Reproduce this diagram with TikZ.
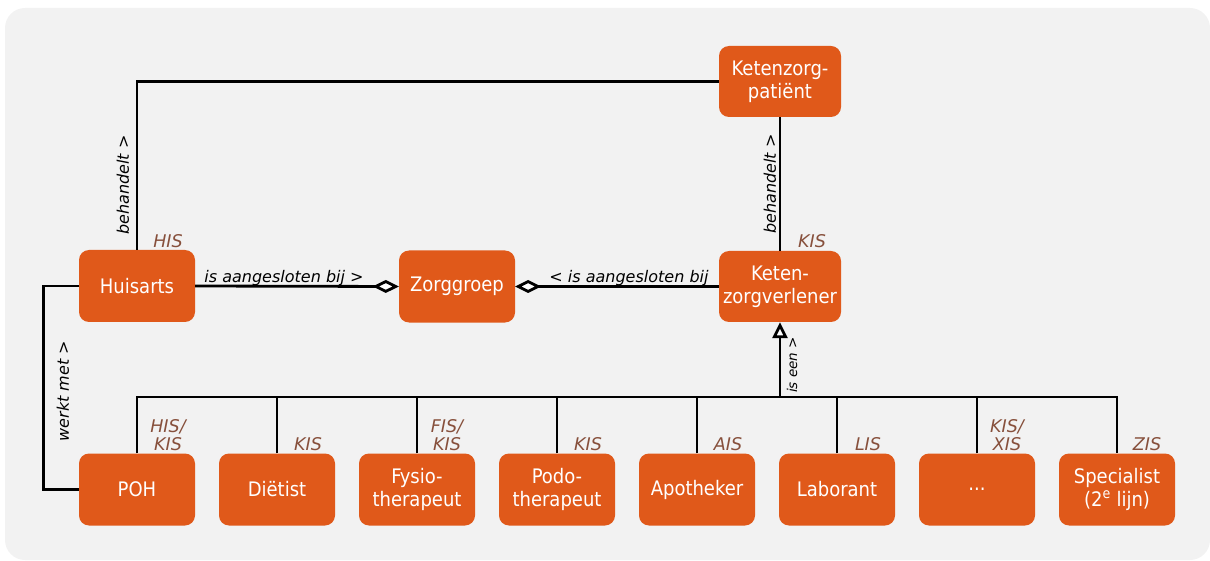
\documentclass[tikz,border=0pt]{standalone}
\usepackage{fontspec}
\setmainfont{DejaVu Sans}
\newfontfamily\rolefont{DejaVu Sans Condensed}
\usetikzlibrary{arrows.meta}
\definecolor{panel}{HTML}{F2F2F2}
\definecolor{rolefill}{HTML}{E0591A}
\definecolor{systext}{HTML}{87503C}
\begin{document}
\begin{tikzpicture}[x=1pt,y=-1pt,
  role/.style={rectangle, rounded corners=10pt, fill=rolefill, text=white,
    minimum width=116pt, minimum height=72pt, align=center, inner sep=0pt,
    font=\rolefont\fontsize{20}{23}\selectfont},
  widerole/.style={minimum width=122pt, minimum height=71pt},
  link/.style={line width=2.8pt, black},
  agg/.style={-{Diamond[fill=white, length=26pt, width=13pt]}},
  gen/.style={-{Triangle[fill=white, length=16pt, width=15pt]}},
  rel/.style={font=\fontsize{16}{19}\selectfont\itshape, text=black, inner sep=0pt},
  smallrel/.style={font=\fontsize{13.5}{16}\selectfont\itshape, text=black, inner sep=0pt},
  sys/.style={font=\fontsize{17.5}{18.5}\selectfont\itshape, text=systext, align=center, inner sep=0pt},
]
\useasboundingbox (0,0) rectangle (1210,561);
\fill[panel, rounded corners=20pt] (5,8) rectangle (1210,560);

% central roles
\node[role, widerole] (kp)  at (780,81.5)  {Ketenzorg-\\patiënt};
\node[role]           (ha)  at (137,286)   {Huisarts};
\node[role]           (zg)  at (457,286.5) {Zorggroep};
\node[role, widerole] (kzv) at (780,286.5) {Keten-\\zorgverlener};

% care providers
\node[role] (poh) at (137,489.5)  {POH};
\node[role] (dt)  at (277,489.5)  {Diëtist};
\node[role] (fy)  at (417,489.5)  {Fysio-\\therapeut};
\node[role] (po)  at (557,489.5)  {Podo-\\therapeut};
\node[role] (ap)  at (697,489.5)  {Apotheker};
\node[role] (lb)  at (837,489.5)  {Laborant};
\node[role] (etc) at (977,489.5)  {...};
\node[role] (sp)  at (1117,489.5) {Specialist\\(2\textsuperscript{e} lijn)};

% associations
\draw[link] (ha.north) |- (kp.west);
\draw[link] (kzv.north) -- (kp.south);
\draw[link, agg] (ha.east) -- (zg.west);
\draw[link, agg] (kzv.west) -- (zg.east);
\draw[link] (ha.west) -- ++(-35,0) |- (poh.west);

% generalisation bus
\coordinate (bus) at (780,397);
\draw[link] (poh.north) -- (poh.north |- bus) -- (sp.north |- bus) -- (sp.north);
\foreach \n in {dt,fy,po,ap,lb,etc}
  \draw[link] (\n.north) -- (\n.north |- bus);
\draw[link, gen] (bus) -- (kzv.south);

% relation labels
\node[rel, rotate=90] (l1) at (123,185) {behandelt >};
\node[rel, rotate=90] (l2) at (770,184) {behandelt >};
\node[rel, anchor=base] (l3) at (284,283) {is aangesloten bij >};
\node[rel, anchor=base] (l4) at (629,283) {< is aangesloten bij};
\node[rel, rotate=90] (l5) at (63,391) {werkt met >};
\node[smallrel, rotate=90] (l6) at (792,365) {is een >};

% information systems
\node[sys] (s1) at (168,241) {HIS};
\node[sys] (s2) at (812,241) {KIS};
\node[sys] (s3) at (168,435) {HIS/\\KIS};
\node[sys] (s4) at (308,444) {KIS};
\node[sys] (s5) at (447,435) {FIS/\\KIS};
\node[sys] (s6) at (588,444) {KIS};
\node[sys] (s7) at (728,444) {AIS};
\node[sys] (s8) at (868,444) {LIS};
\node[sys] (s9) at (1007,435) {KIS/\\XIS};
\node[sys] (s10) at (1147,444) {ZIS};
\end{tikzpicture}
\end{document}
